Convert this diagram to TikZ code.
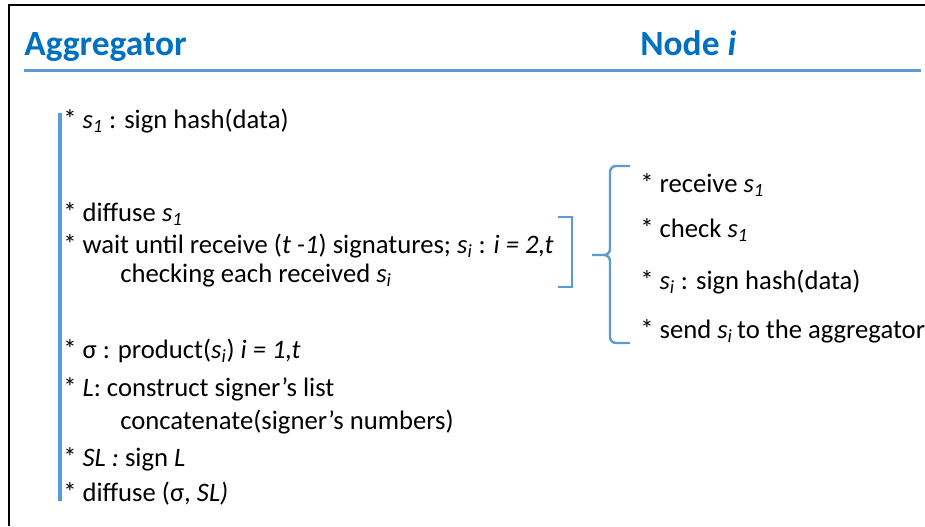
\documentclass[tikz,border=0pt]{standalone}
\usepackage{fontspec}
\setmainfont{Carlito}
\definecolor{headblue}{HTML}{0070C0}
\definecolor{lineblue}{HTML}{5B9BD5}
\newcommand{\sv}[1]{\textit{s}\textsubscript{\textit{#1}}}

\begin{document}
\begin{tikzpicture}
[
    x=0.75pt, y=-0.75pt,
    head/.style={anchor=base west, inner sep=0, text=headblue, font=\fontsize{26.6}{32}\selectfont\bfseries},
    item/.style={anchor=base west, inner sep=0, font=\fontsize{20}{24}\selectfont},
    bar/.style={draw=lineblue, line width=2.6pt},
    bracket/.style={draw=lineblue, line width=1.8pt},
]
\useasboundingbox (0,0) rectangle (925,526);
\draw[line width=1.1pt] (9,526) -- (9,5) -- (925,5);

\node[head] (agg) at (24,55) {Aggregator};
\node[head] (nodei) at (640,55) {Node \textit{i}};
\draw[bar] (24,70.5) -- (921,70.5);
\draw[bar] (60,113) -- (60,501);

\node[item] (sign) at (63,128) {* \sv{1} : sign hash(data)};
\node[item] (diff) at (63,221) {* diffuse \sv{1}};
\node[item] (wait) at (63,253) {* wait until receive (\textit{t -1}) signatures; \sv{i} : \textit{i = 2,t}};
\node[item] (chk) at (120,282) {checking each received \sv{i}};
\node[item] (prod) at (63,358) {* σ : product(\sv{i}) \textit{i = 1,t}};
\node[item] (list) at (63,396) {* \textit{L}: construct signer’s list};
\node[item] (cat) at (120,429) {concatenate(signer’s numbers)};
\node[item] (sl) at (63,466) {* \textit{SL :} sign \textit{L}};
\node[item] (fin) at (63,501) {* diffuse (σ, \textit{SL)}};

\node[item] (recv) at (640,192) {* receive \sv{1}};
\node[item] (chk1) at (640,237) {* check \sv{1}};
\node[item] (signi) at (640,289) {* \sv{i} : sign hash(data)};
\node[item] (send) at (640,338) {* send \sv{i}\,to the aggregator};

\draw[bracket] (558,217) -- (572,217) -- (572,287) -- (558,287);
\draw[bracket] (630,166) -- (616,166) to[out=180,in=90] (610,172) -- (610,249)
    to[out=-90,in=0] (604,255) -- (592,255);
\draw[bracket] (630,343) -- (616,343) to[out=180,in=-90] (610,337) -- (610,261)
    to[out=90,in=0] (604,255);
\end{tikzpicture}
\end{document}
